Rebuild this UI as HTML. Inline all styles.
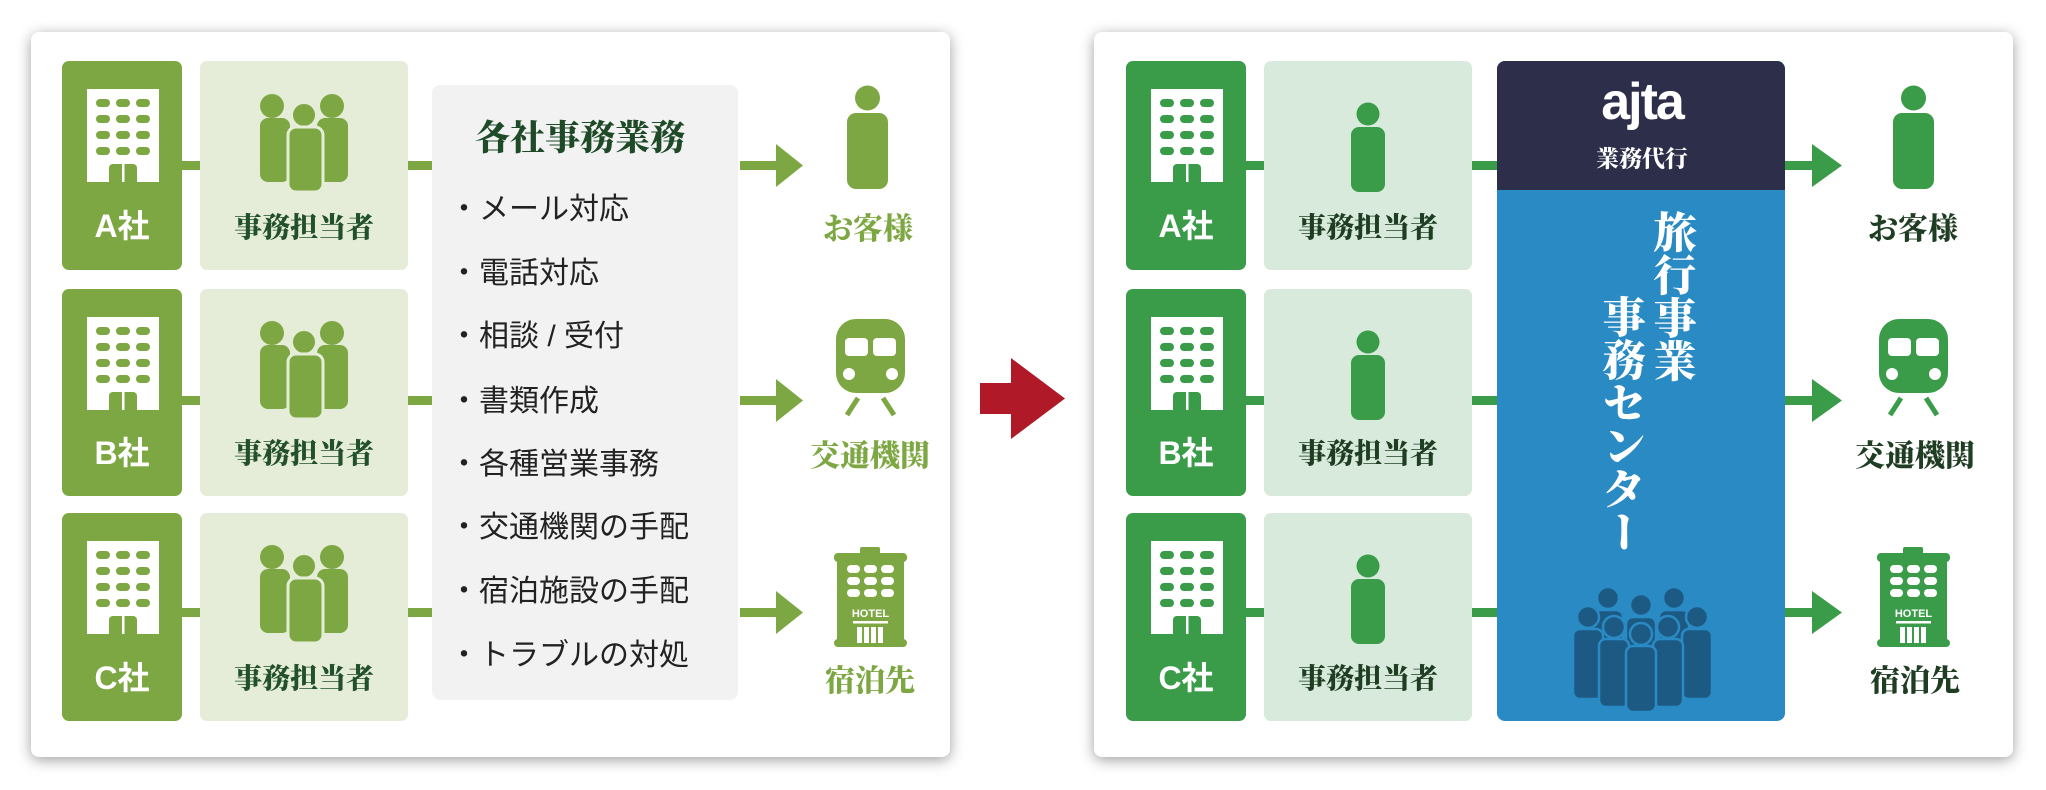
<!DOCTYPE html>
<html><head><meta charset="utf-8">
<style>
*{margin:0;padding:0;box-sizing:border-box}
body{width:2046px;height:790px;background:#fff;position:relative;overflow:hidden;font-family:"Liberation Sans","Noto Sans CJK JP",sans-serif}
.panel{position:absolute;top:32px;width:919px;height:725px;background:#fff;border-radius:8px;box-shadow:0 3px 14px rgba(0,0,0,.38)}
.t{position:absolute;white-space:nowrap;text-align:center;transform:translate(-50%,-50%)}
.co{font-family:"Liberation Sans","Noto Sans CJK JP",sans-serif;font-weight:700;font-size:32px;color:#fff}
.st{font-family:"Liberation Serif","Noto Serif CJK JP",serif;font-weight:900;font-size:28px}
.lb{font-family:"Liberation Serif","Noto Serif CJK JP",serif;font-weight:900;font-size:30px}
.li{position:absolute;left:449px;font-size:30px;color:#222;transform:translateY(-50%);white-space:nowrap;font-family:"Liberation Sans","Noto Sans CJK JP",sans-serif}
.vt{position:absolute;writing-mode:vertical-rl;font-family:"Liberation Serif","Noto Serif CJK JP",serif;font-weight:900;font-size:43px;line-height:45px;color:#fff;transform:translateX(-50%)}
</style></head><body>
<div class="panel" style="left:31px"></div>
<div class="panel" style="left:1094px"></div>

<svg width="2046" height="790" style="position:absolute;left:0;top:0">
<defs>
<g id="bld">
<rect x="0" y="0" width="72" height="93" fill="#fff"/>
<g fill="currentColor">
<rect x="9" y="10" width="14" height="8" rx="4"/><rect x="29" y="10" width="14" height="8" rx="4"/><rect x="49" y="10" width="14" height="8" rx="4"/>
<rect x="9" y="26" width="14" height="8" rx="4"/><rect x="29" y="26" width="14" height="8" rx="4"/><rect x="49" y="26" width="14" height="8" rx="4"/>
<rect x="9" y="42" width="14" height="8" rx="4"/><rect x="29" y="42" width="14" height="8" rx="4"/><rect x="49" y="42" width="14" height="8" rx="4"/>
<rect x="9" y="58" width="14" height="8" rx="4"/><rect x="29" y="58" width="14" height="8" rx="4"/><rect x="49" y="58" width="14" height="8" rx="4"/>
<path d="M22 93 V79 a4 4 0 0 1 4 -4 H46 a4 4 0 0 1 4 4 V93 Z"/>
</g>
<rect x="35" y="75" width="2.5" height="18" fill="#fff"/>
</g>
<g id="train">
<rect x="0" y="0" width="69" height="74" rx="20" fill="currentColor"/>
<rect x="9" y="19" width="23" height="18" rx="4" fill="#fff"/>
<rect x="37" y="19" width="23" height="18" rx="4" fill="#fff"/>
<circle cx="13" cy="55" r="6" fill="#fff"/><circle cx="56" cy="55" r="6" fill="#fff"/>
<path d="M22 79 L11 96 M47 79 L58 96" stroke="currentColor" stroke-width="5"/>
</g>
<g id="hotel" fill="currentColor">
<rect x="26" y="0" width="20" height="8" rx="2"/>
<rect x="0" y="6" width="73" height="9" rx="4"/>
<rect x="3" y="10" width="67" height="88"/>
<rect x="0" y="92" width="73" height="8" rx="4"/>
<g fill="#fff">
<rect x="13" y="18" width="13" height="8" rx="4"/><rect x="30" y="18" width="13" height="8" rx="4"/><rect x="47" y="18" width="13" height="8" rx="4"/>
<rect x="13" y="30" width="13" height="8" rx="4"/><rect x="30" y="30" width="13" height="8" rx="4"/><rect x="47" y="30" width="13" height="8" rx="4"/>
<rect x="13" y="42" width="13" height="8" rx="4"/><rect x="30" y="42" width="13" height="8" rx="4"/><rect x="47" y="42" width="13" height="8" rx="4"/>
<rect x="19" y="74" width="35" height="2.5"/>
<rect x="23" y="80" width="5" height="16"/><rect x="30" y="80" width="5" height="16"/><rect x="37" y="80" width="5" height="16"/><rect x="44" y="80" width="5" height="16"/>
</g>
<text x="36.5" y="70" font-family="Liberation Sans,sans-serif" font-weight="700" font-size="11" fill="#fff" text-anchor="middle">HOTEL</text>
</g>
<g id="cust" fill="currentColor">
<circle cx="20.5" cy="12" r="12.5"/>
<rect x="0" y="27" width="41" height="76" rx="9"/>
</g>
</defs>

<!-- LEFT -->
<g fill="#7da742">
<rect x="62" y="61" width="120" height="209" rx="7"/>
<rect x="62" y="289" width="120" height="207" rx="7"/>
<rect x="62" y="513" width="120" height="208" rx="7"/>
<rect x="182" y="161" width="18" height="9"/><rect x="182" y="396" width="18" height="9"/><rect x="182" y="608" width="18" height="9"/>
<rect x="408" y="161" width="24" height="9"/><rect x="408" y="396" width="24" height="9"/><rect x="408" y="608" width="24" height="9"/>
<rect x="740" y="161" width="38" height="9"/><rect x="740" y="396" width="38" height="9"/><rect x="740" y="608" width="38" height="9"/>
<path d="M776 144 L803 165.5 L776 187 Z"/><path d="M776 379 L803 400.5 L776 422 Z"/><path d="M776 591 L803 612.5 L776 634 Z"/>
</g>
<g fill="#e5edd9">
<rect x="200" y="61" width="208" height="209" rx="7"/>
<rect x="200" y="289" width="208" height="207" rx="7"/>
<rect x="200" y="513" width="208" height="208" rx="7"/>
</g>
<rect x="432" y="85" width="306" height="615" rx="8" fill="#f2f2f2"/>
<g style="color:#7da742">
<use href="#bld" x="87" y="89"/><use href="#bld" x="87" y="317"/><use href="#bld" x="87" y="541"/>
<use href="#cust" x="847" y="86"/>
<use href="#train" x="836" y="319"/>
<use href="#hotel" x="834" y="547"/>
</g>
<g id="staff3">
<g fill="#7da742">
<circle cx="272" cy="106" r="12"/><rect x="260" y="118" width="30" height="64" rx="8"/>
<circle cx="332" cy="106" r="12"/><rect x="317" y="118" width="31" height="64" rx="8"/>
<circle cx="304" cy="115" r="12.5" stroke="#e5edd9" stroke-width="3"/>
<rect x="288" y="127" width="35" height="65" rx="8" stroke="#e5edd9" stroke-width="3"/>
</g>
</g>
<use href="#staff3" x="0" y="227"/>
<use href="#staff3" x="0" y="451"/>

<!-- red arrow -->
<path d="M980 383 H1011 V358 L1065 398.5 L1011 439 V414 H980 Z" fill="#b01a28"/>

<!-- RIGHT -->
<g fill="#3a9b48">
<rect x="1126" y="61" width="120" height="209" rx="7"/>
<rect x="1126" y="289" width="120" height="207" rx="7"/>
<rect x="1126" y="513" width="120" height="208" rx="7"/>
<rect x="1246" y="161" width="18" height="9"/><rect x="1246" y="396" width="18" height="9"/><rect x="1246" y="608" width="18" height="9"/>
<rect x="1472" y="161" width="25" height="9"/><rect x="1472" y="396" width="25" height="9"/><rect x="1472" y="608" width="25" height="9"/>
<rect x="1785" y="161" width="34" height="9"/><rect x="1785" y="396" width="34" height="9"/><rect x="1785" y="608" width="34" height="9"/>
<path d="M1812 144 L1842 165.5 L1812 187 Z"/><path d="M1812 379 L1842 400.5 L1812 422 Z"/><path d="M1812 591 L1842 612.5 L1812 634 Z"/>
</g>
<g fill="#d7eadb">
<rect x="1264" y="61" width="208" height="209" rx="7"/>
<rect x="1264" y="289" width="208" height="207" rx="7"/>
<rect x="1264" y="513" width="208" height="208" rx="7"/>
</g>
<rect x="1497" y="61" width="288" height="660" rx="8" fill="#2a8ac4"/>
<path d="M1497 190 V69 a8 8 0 0 1 8 -8 H1777 a8 8 0 0 1 8 8 V190 Z" fill="#2d2f4a"/>
<g style="color:#3a9b48">
<use href="#bld" x="1151" y="89"/><use href="#bld" x="1151" y="317"/><use href="#bld" x="1151" y="541"/>
<use href="#cust" x="1893" y="86"/>
<use href="#train" x="1879" y="319"/>
<use href="#hotel" x="1877" y="547"/>
</g>
<g id="p1" fill="#3a9b48">
<circle cx="1368" cy="114" r="11.5"/>
<rect x="1351" y="127" width="34" height="65" rx="8"/>
</g>
<use href="#p1" x="0" y="228"/>
<use href="#p1" x="0" y="452"/>
<!-- crowd -->
<g fill="#1c5a84" stroke="#2a8ac4" stroke-width="2.5">
<circle cx="1608" cy="598" r="11"/><rect x="1593" y="610" width="30" height="70" rx="7"/>
<circle cx="1674" cy="598" r="11"/><rect x="1659" y="610" width="30" height="70" rx="7"/>
<circle cx="1588" cy="617" r="11"/><rect x="1573" y="629" width="30" height="70" rx="7"/>
<circle cx="1697" cy="617" r="11"/><rect x="1682" y="629" width="30" height="70" rx="7"/>
<circle cx="1641" cy="605" r="11"/><rect x="1626" y="617" width="30" height="70" rx="7"/>
<circle cx="1614" cy="627" r="11"/><rect x="1599" y="639" width="30" height="68" rx="7"/>
<circle cx="1668" cy="627" r="11"/><rect x="1653" y="639" width="30" height="68" rx="7"/>
<circle cx="1641" cy="634" r="11"/><rect x="1626" y="646" width="30" height="66" rx="7"/>
</g>
</svg>

<!-- LEFT TEXT -->
<div class="t co" style="left:122px;top:224px">A社</div>
<div class="t co" style="left:122px;top:451px">B社</div>
<div class="t co" style="left:122px;top:676px">C社</div>
<div class="t st" style="left:304px;top:226px;color:#22502a">事務担当者</div>
<div class="t st" style="left:304px;top:452px;color:#22502a">事務担当者</div>
<div class="t st" style="left:304px;top:677px;color:#22502a">事務担当者</div>
<div class="t" style="left:580px;top:136px;font-family:'Liberation Serif','Noto Serif CJK JP',serif;font-weight:900;font-size:35px;color:#1e4a27">各社事務業務</div>
<div class="li" style="top:206px">・メール対応</div>
<div class="li" style="top:270px">・電話対応</div>
<div class="li" style="top:333px">・相談 / 受付</div>
<div class="li" style="top:398px">・書類作成</div>
<div class="li" style="top:461px">・各種営業事務</div>
<div class="li" style="top:524px">・交通機関の手配</div>
<div class="li" style="top:588px">・宿泊施設の手配</div>
<div class="li" style="top:652px">・トラブルの対処</div>
<div class="t lb" style="left:868px;top:226px;color:#7da742">お客様</div>
<div class="t lb" style="left:870px;top:453px;color:#7da742">交通機関</div>
<div class="t lb" style="left:870px;top:678px;color:#7da742">宿泊先</div>

<!-- RIGHT TEXT -->
<div class="t co" style="left:1186px;top:224px">A社</div>
<div class="t co" style="left:1186px;top:451px">B社</div>
<div class="t co" style="left:1186px;top:676px">C社</div>
<div class="t st" style="left:1368px;top:226px;color:#1f3d22">事務担当者</div>
<div class="t st" style="left:1368px;top:452px;color:#1f3d22">事務担当者</div>
<div class="t st" style="left:1368px;top:677px;color:#1f3d22">事務担当者</div>
<div class="t" style="left:1642px;top:102px;font-family:'Liberation Sans',sans-serif;font-weight:700;font-size:52px;color:#fff;letter-spacing:-2px">ajta</div>
<div class="t" style="left:1642px;top:157px;font-family:'Liberation Serif','Noto Serif CJK JP',serif;font-weight:900;font-size:23px;color:#fff">業務代行</div>
<div class="vt" style="left:1671px;top:210px">旅行事業</div>
<div class="vt" style="left:1620px;top:295px">事務センター</div>
<div class="t lb" style="left:1913px;top:226px;color:#1f3d22">お客様</div>
<div class="t lb" style="left:1915px;top:453px;color:#1f3d22">交通機関</div>
<div class="t lb" style="left:1915px;top:678px;color:#1f3d22">宿泊先</div>
</body></html>
